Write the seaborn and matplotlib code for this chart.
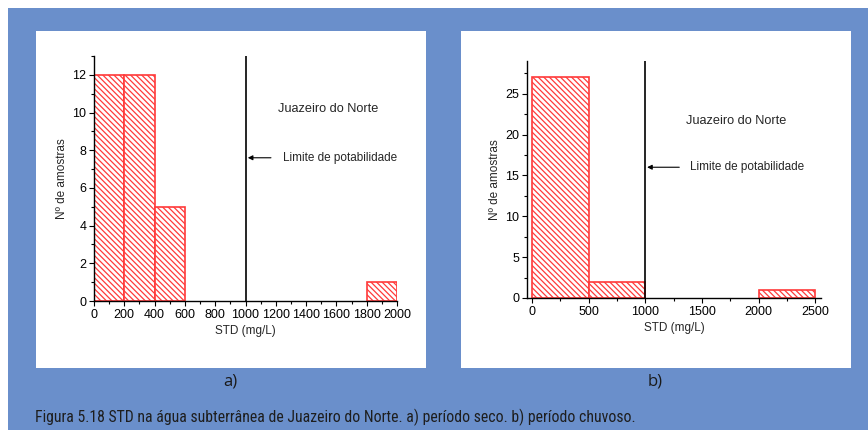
import numpy as np
import pandas as pd
import matplotlib
matplotlib.use("Agg")
import matplotlib.pyplot as plt
from matplotlib.patches import Rectangle
from matplotlib.ticker import MultipleLocator
import seaborn as sns

# ---- data ----
a_edges = [0, 200, 400, 600, 800, 1000, 1200, 1400, 1600, 1800, 2000]
a_counts = [12, 12, 5, 0, 0, 0, 0, 0, 0, 1]
b_edges = [0, 500, 1000, 1500, 2000, 2500]
b_counts = [27, 2, 0, 0, 1]
limit = 1000
site = "Juazeiro do Norte"
limit_label = "Limite de potabilidade"
xlabel = "STD (mg/L)"
ylabel = "Nº de amostras"
caption = "Figura 5.18 STD na água subterrânea de Juazeiro do Norte. a) período seco. b) período chuvoso."

sns.set_style("white")
plt.rcParams['font.family'] = ['Liberation Sans', 'DejaVu Sans']
plt.rcParams['hatch.linewidth'] = 0.9

W, H = 868, 430
fig = plt.figure(figsize=(W / 100, H / 100), dpi=100, facecolor="white")
blue = "#6a8fcb"

def px_rect(x0, y0, x1, y1, color):
    fig.patches.append(Rectangle((x0 / W, 1 - y1 / H), (x1 - x0) / W, (y1 - y0) / H,
                                 transform=fig.transFigure, facecolor=color,
                                 edgecolor="none", zorder=-10))

px_rect(8, 8, W, H, blue)
px_rect(36, 31, 426, 368, "white")
px_rect(461, 31, 851, 368, "white")

def panel(rect, edges, counts, xlim, ylim, xmaj, xmin, ymaj, ymin,
          site_xy, arrow_y, arrow_from, text_x):
    ax = fig.add_axes(rect)
    ax.set_facecolor("none")
    lefts = edges[:-1]
    df = pd.DataFrame({"x": [l + 1 for l in lefts], "w": counts})
    sns.histplot(data=df, x="x", weights="w", bins=edges, ax=ax,
                 fill=False, element="bars", color="#ff2a2a", linewidth=1.2)
    for p in ax.patches:
        p.set_hatch("\\\\\\\\\\\\")
        p.set_edgecolor("#ff3a3a")
        p.set_facecolor("white")
        p.set_fill(True)
        if p.get_height() == 0:
            p.set_visible(False)
    ax.axvline(limit, color="black", lw=1.2)
    ax.set_xlim(*xlim)
    ax.set_ylim(*ylim)
    ax.xaxis.set_major_locator(MultipleLocator(xmaj))
    ax.xaxis.set_minor_locator(MultipleLocator(xmin))
    ax.yaxis.set_major_locator(MultipleLocator(ymaj))
    ax.yaxis.set_minor_locator(MultipleLocator(ymin))
    ax.tick_params(which="both", direction="out", bottom=True, left=True,
                   top=False, right=False, colors="black", labelsize=9, pad=2)
    ax.tick_params(which="major", length=3.5, width=0.8)
    ax.tick_params(which="minor", length=2, width=0.8)
    for s in ["top", "right"]:
        ax.spines[s].set_visible(False)
    for s in ["left", "bottom"]:
        ax.spines[s].set_color("black")
        ax.spines[s].set_linewidth(1.0)
    ax.set_xlabel(xlabel, fontsize=8.5, labelpad=3)
    ax.set_ylabel(ylabel, fontsize=8.5, labelpad=3)
    ax.text(site_xy[0], site_xy[1], site, fontsize=9.2, va="center", ha="left")
    ax.annotate("", xy=(limit + 15, arrow_y), xytext=(arrow_from, arrow_y),
                arrowprops=dict(arrowstyle="-|>", color="black", lw=0.8,
                                mutation_scale=7, shrinkA=0, shrinkB=0))
    ax.text(text_x, arrow_y, limit_label, fontsize=8.5, va="center", ha="left")
    return ax

# panel a
panel([94 / W, 1 - 301 / H, 303 / W, 245 / H], a_edges, a_counts,
      (0, 2000), (0, 13), 200, 100, 2, 1,
      (1215, 10.2), 7.6, 1168, 1247)
# panel b
panel([527 / W, 1 - 298 / H, 294 / W, 237 / H], b_edges, b_counts,
      (-45, 2550), (0, 29), 500, 250, 5, 2.5,
      (1360, 21.6), 16.0, 1299, 1396)

fig.text(230 / W, 1 - 381 / H, "a)", fontsize=12, ha="center", va="center",
         color="#1a1a1a", family=["Open Sans", "DejaVu Sans"])
fig.text(655 / W, 1 - 381 / H, "b)", fontsize=12, ha="center", va="center",
         color="#1a1a1a", family=["Open Sans", "DejaVu Sans"])
fig.text(35 / W, 1 - 417 / H, caption, fontsize=11.3, ha="left", va="center",
         color="#1e1e1e",
         family=["Roboto Condensed", "Roboto", "DejaVu Sans"])

fig.savefig("out.png", dpi=100, facecolor="white")
